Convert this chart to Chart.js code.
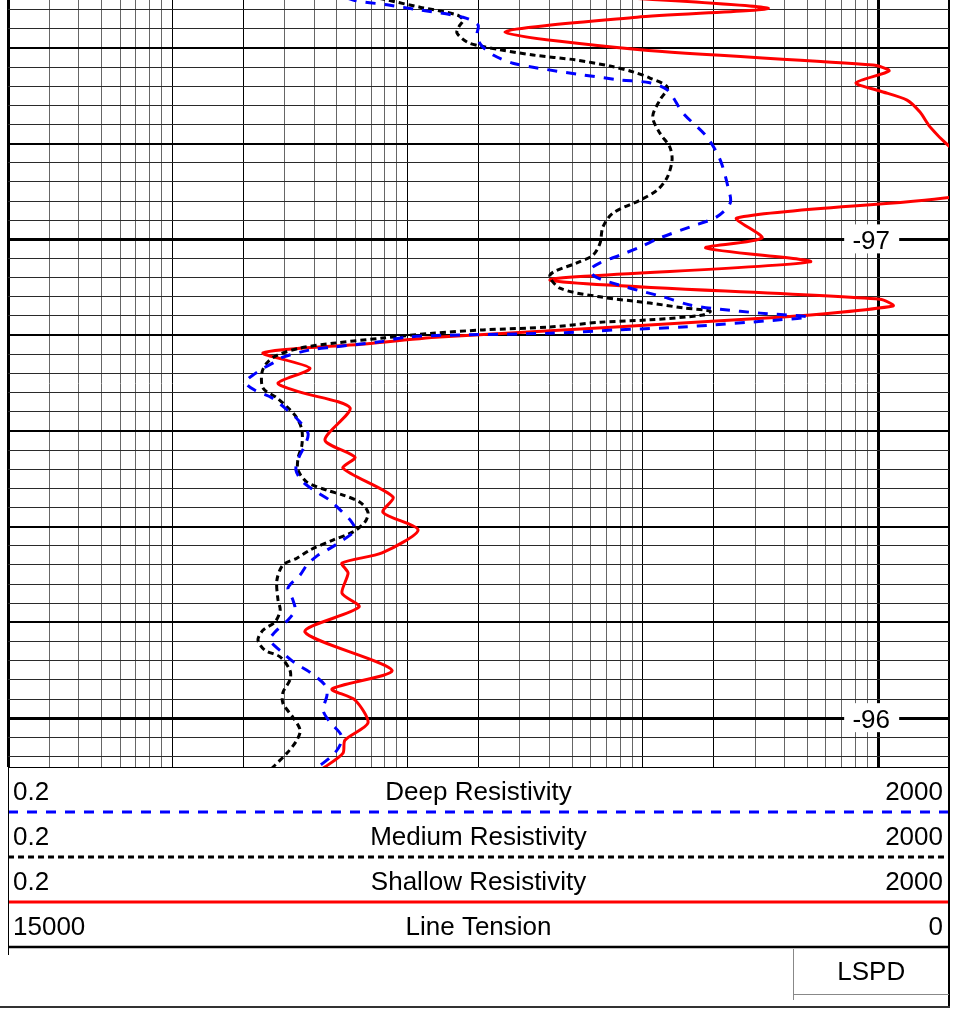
<!DOCTYPE html>
<html>
<head>
<meta charset="utf-8">
<title>Resistivity log</title>
<script src="https://cdn.jsdelivr.net/npm/chart.js@4.4.1/dist/chart.umd.min.js"></script>
<style>
  html, body { margin: 0; padding: 0; background: #fff; }
  canvas { display: block; }
</style>
</head>
<body>
<canvas id="logChart" width="966" height="1009"></canvas>
<script>
// depth scale runs downwards, resistivity on a log scale (0.2 - 2000)
const resMin = 0.2
const resMax = 2000
const depthTop = -97.5
const depthBottom = -95.898
const depthLabels = [-97, -96]

// Deep resistivity (blue dashed)
const deepDepth = [-97.521, -97.500, -97.490, -97.479, -97.464, -97.448, -97.427, -97.406, -97.385, -97.368,
  -97.358, -97.345, -97.333, -97.327, -97.312, -97.264, -97.214, -97.166, -97.109, -97.076,
  -97.047, -97.026, -97.003, -96.984, -96.967, -96.951, -96.936, -96.921, -96.900, -96.880,
  -96.863, -96.854, -96.846, -96.838, -96.832, -96.817, -96.811, -96.804, -96.800, -96.796,
  -96.786, -96.775, -96.769, -96.754, -96.742, -96.727, -96.702, -96.685, -96.669, -96.644,
  -96.623, -96.595, -96.570, -96.545, -96.518, -96.493, -96.472, -96.455, -96.435, -96.414,
  -96.393, -96.372, -96.351, -96.339, -96.320, -96.299, -96.272, -96.247, -96.226, -96.205,
  -96.180, -96.163, -96.136, -96.115, -96.096, -96.069, -96.048, -96.017, -95.992, -95.965,
  -95.944, -95.923, -95.898, -95.871]
const deepRes = [4.67, 5.86, 8.17, 11.28, 17.19, 19.9, 19.7, 20.5, 23.1, 28.0,
  35.5, 53, 79.9, 107, 127, 148, 187, 213, 230, 235,
  206, 158.5, 118, 97.2, 79.9, 65.7, 59.6, 63.2, 85.6, 122,
  158.5, 213, 315, 503, 382, 148, 77.6, 40.3, 15.1, 9.93,
  7.6, 4.81, 3.84, 2.95, 2.68, 2.36, 2.05, 2.24, 2.65, 3.07,
  3.42, 3.77, 3.66, 3.45, 3.35, 3.59, 4.12, 4.67, 5.16, 5.69,
  5.97, 5.31, 4.54, 4.12, 3.73, 3.49, 3.10, 3.25, 3.32, 3.10,
  2.73, 2.60, 2.95, 3.32, 3.84, 4.45, 4.54, 4.37, 4.67, 5.21,
  5.16, 4.81, 4.16, 3.6]

// Medium resistivity (black short dashes)
const medDepth = [-97.521, -97.500, -97.485, -97.469, -97.458, -97.444, -97.431, -97.412, -97.404, -97.396,
  -97.385, -97.375, -97.362, -97.350, -97.337, -97.318, -97.291, -97.256, -97.222, -97.193,
  -97.166, -97.130, -97.103, -97.082, -97.055, -97.026, -96.992, -96.967, -96.951, -96.926,
  -96.898, -96.880, -96.867, -96.857, -96.850, -96.842, -96.832, -96.827, -96.817, -96.811,
  -96.804, -96.794, -96.783, -96.773, -96.758, -96.742, -96.721, -96.689, -96.669, -96.648,
  -96.627, -96.602, -96.570, -96.543, -96.518, -96.493, -96.476, -96.466, -96.451, -96.430,
  -96.410, -96.389, -96.372, -96.351, -96.334, -96.320, -96.288, -96.247, -96.226, -96.201,
  -96.184, -96.163, -96.142, -96.128, -96.100, -96.080, -96.054, -96.031, -96.002, -95.975,
  -95.954, -95.927, -95.898, -95.871]
const medRes = [5.16, 8.17, 11.28, 16.2, 17.19, 16.5, 16.2, 17.9, 20.3, 24.7,
  34.1, 51.4, 72.4, 90.7, 107, 127, 118, 110, 118, 130,
  133, 127, 115, 97.2, 74.6, 67.6, 65.7, 61.3, 52.4, 40.3,
  44.4, 65.7, 107, 148, 193, 180, 107, 65.7, 40.3, 20.9,
  12.8, 7.85, 4.81, 3.49, 2.78, 2.52, 2.40, 2.43, 2.78, 3.10,
  3.38, 3.55, 3.55, 3.42, 3.42, 3.73, 4.54, 5.31, 6.27, 6.78,
  6.59, 5.86, 4.81, 3.84, 3.38, 2.95, 2.78, 2.81, 2.87, 2.73,
  2.43, 2.31, 2.47, 2.87, 3.16, 3.16, 2.95, 2.95, 3.25, 3.49,
  3.38, 3.07, 2.68, 2.4]

// Shallow resistivity (red solid)
const shallowDepth = [-97.513, -97.483, -97.464, -97.433, -97.396, -97.364, -97.352, -97.327, -97.310, -97.291,
  -97.266, -97.235, -97.195, -97.155, -97.118, -97.088, -97.045, -97.003, -96.982, -96.953,
  -96.915, -96.875, -96.861, -96.838, -96.796, -96.781, -96.763, -96.731, -96.700, -96.681,
  -96.648, -96.581, -96.545, -96.522, -96.462, -96.430, -96.393, -96.345, -96.324, -96.303,
  -96.261, -96.232, -96.180, -96.100, -96.061, -96.038, -95.990, -95.954, -95.927, -95.898,
  -95.871]
const shallowRes = [44.4, 340, 94.4, 25.9, 97.2, 951, 1112, 805, 1018, 1326,
  1505, 1661, 2000, 2600, 2700, 2020, 251, 321, 185, 513,
  40.3, 1018, 1156, 394, 13.7, 6.33, 2.43, 3.84, 2.81, 3.49,
  5.69, 4.45, 5.97, 5.31, 8.66, 7.85, 11.07, 7.78, 5.26, 5.58,
  5.26, 6.21, 3.66, 8.58, 4.77, 5.97, 6.78, 5.41, 5.31, 4.45,
  3.66]

// header rows below the track
const trackNames = ['Deep Resistivity', 'Medium Resistivity', 'Shallow Resistivity', 'Line Tension']
const trackMin = ['0.2', '0.2', '0.2', '15000']
const trackMax = ['2000', '2000', '2000', '0']
const depthTrackTitle = 'LSPD'

const FONT = '26px "Liberation Sans", Arial, sans-serif'

function toPoints(depths, values) {
  return depths.map((d, i) => ({ x: values[i], y: d }))
}

// log grid: every integer multiple inside each decade
const xGridValues = []
for (let dec = 0.1; dec < resMax; dec *= 10) {
  for (let m = 1; m <= 9; m++) {
    const v = +(m * dec).toPrecision(3)
    if (v >= resMin && v <= resMax) xGridValues.push(v)
  }
}
// depth grid every 0.04
const yGridValues = []
for (let i = 0; ; i++) {
  const v = Math.round((depthTop + 0.02 + i * 0.04) * 100) / 100
  if (v > depthBottom) break
  yGridValues.push(v)
}

function mantissa(v) {
  return Math.round(v / Math.pow(10, Math.floor(Math.log10(v) + 1e-9)))
}
function isClose(a, b) { return Math.abs(a - b) < 1e-6 }

const logFrame = {
  id: 'logFrame',
  beforeDatasetsDraw(chart) {
    const { ctx, scales: { x, y } } = chart
    ctx.save()
    ctx.font = FONT
    ctx.textAlign = 'center'
    ctx.textBaseline = 'alphabetic'
    depthLabels.forEach(d => {
      const py = y.getPixelForValue(d)
      const px = x.getPixelForValue(1000) - 7
      ctx.fillStyle = '#fff'
      ctx.fillRect(px - 27, py - 15, 55, 29)
      ctx.fillStyle = '#000'
      ctx.fillText(String(d), px, py + 9.5)
    })
    ctx.restore()
  },
  afterDraw(chart) {
    const { ctx, chartArea } = chart
    const left = chartArea.left
    const right = chartArea.right
    const top = chartArea.bottom
    const rowH = 45
    ctx.save()

    // bottom edge of the track
    ctx.strokeStyle = '#000'
    ctx.lineWidth = 1
    ctx.beginPath()
    ctx.moveTo(left, top + 0.5)
    ctx.lineTo(right, top + 0.5)
    ctx.stroke()

    ctx.font = FONT
    ctx.fillStyle = '#000'
    trackNames.forEach((name, i) => {
      const base = top + 32.5 + i * rowH
      ctx.textAlign = 'left'
      ctx.fillText(trackMin[i], left + 5, base)
      ctx.textAlign = 'center'
      ctx.fillText(name, (left + right) / 2, base)
      ctx.textAlign = 'right'
      ctx.fillText(trackMax[i], right - 6, base)

      const ly = top + (i + 1) * rowH
      const ds = chart.data.datasets[i]
      ctx.beginPath()
      if (ds) {
        ctx.strokeStyle = ds.borderColor
        ctx.lineWidth = ds.borderWidth
        ctx.setLineDash(ds.borderDash || [])
      } else {
        ctx.strokeStyle = '#000'
        ctx.lineWidth = 2.5
        ctx.setLineDash([])
      }
      ctx.moveTo(left, ly)
      ctx.lineTo(right, ly)
      ctx.stroke()
    })
    ctx.setLineDash([])

    // left edge of the header
    ctx.strokeStyle = '#000'
    ctx.lineWidth = 1
    ctx.beginPath()
    ctx.moveTo(left + 0.5, top)
    ctx.lineTo(left + 0.5, top + 4 * rowH + 8)
    ctx.stroke()

    // right edge all the way down
    ctx.lineWidth = 2
    ctx.beginPath()
    ctx.moveTo(right, top)
    ctx.lineTo(right, 1008)
    ctx.stroke()

    // depth track title box
    const boxLeft = 793.5
    ctx.strokeStyle = '#888'
    ctx.lineWidth = 1
    ctx.beginPath()
    ctx.moveTo(boxLeft, top + 4 * rowH + 2)
    ctx.lineTo(boxLeft, 1000)
    ctx.moveTo(boxLeft, 994.5)
    ctx.lineTo(right, 994.5)
    ctx.stroke()
    ctx.textAlign = 'center'
    ctx.fillText(depthTrackTitle, (boxLeft + right) / 2, 980)

    // outer bottom line
    ctx.strokeStyle = '#333'
    ctx.lineWidth = 2
    ctx.beginPath()
    ctx.moveTo(0, 1007)
    ctx.lineTo(right + 1, 1007)
    ctx.stroke()
    ctx.restore()
  }
}

new Chart(document.getElementById('logChart'), {
  type: 'scatter',
  data: {
    datasets: [
      {
        label: 'Deep Resistivity',
        data: toPoints(deepDepth, deepRes),
        showLine: true,
        borderColor: '#0000ff',
        borderWidth: 3,
        borderDash: [10, 9],
        pointRadius: 0,
        tension: 0.3
      },
      {
        label: 'Medium Resistivity',
        data: toPoints(medDepth, medRes),
        showLine: true,
        borderColor: '#000000',
        borderWidth: 3,
        borderDash: [6, 4],
        pointRadius: 0,
        tension: 0.3
      },
      {
        label: 'Shallow Resistivity',
        data: toPoints(shallowDepth, shallowRes),
        showLine: true,
        borderColor: '#ff0000',
        borderWidth: 3,
        pointRadius: 0,
        tension: 0.25
      }
    ]
  },
  options: {
    responsive: false,
    animation: false,
    devicePixelRatio: 1,
    layout: { padding: { left: 8, right: 17, top: 0, bottom: 242 } },
    plugins: {
      legend: { display: false },
      tooltip: { enabled: false }
    },
    scales: {
      x: {
        type: 'logarithmic',
        position: 'bottom',
        min: resMin,
        max: resMax,
        afterBuildTicks: (axis) => {
          axis.ticks = xGridValues.map(v => ({ value: v }))
        },
        ticks: { display: false },
        border: { display: false },
        grid: {
          drawTicks: false,
          color: (ctx) => {
            const m = mantissa(ctx.tick.value)
            return (m === 1 || m === 2) ? '#000' : '#666'
          },
          lineWidth: (ctx) => {
            const v = ctx.tick.value
            if (isClose(v, 1000) || isClose(v, resMin)) return 3
            if (isClose(v, resMax)) return 2
            return 1
          }
        }
      },
      y: {
        type: 'linear',
        reverse: true,
        min: depthTop,
        max: depthBottom,
        afterBuildTicks: (axis) => {
          axis.ticks = yGridValues.map(v => ({ value: v }))
        },
        ticks: { display: false },
        border: { display: false },
        grid: {
          drawTicks: false,
          color: (ctx) => {
            const v = ctx.tick.value
            return isClose(v * 5, Math.round(v * 5)) ? '#000' : '#2a2a2a'
          },
          lineWidth: (ctx) => {
            const v = ctx.tick.value
            if (isClose(v, Math.round(v))) return 3
            if (isClose(v * 5, Math.round(v * 5))) return 2
            return 1
          }
        }
      }
    }
  },
  plugins: [logFrame]
})
</script>
</body>
</html>
